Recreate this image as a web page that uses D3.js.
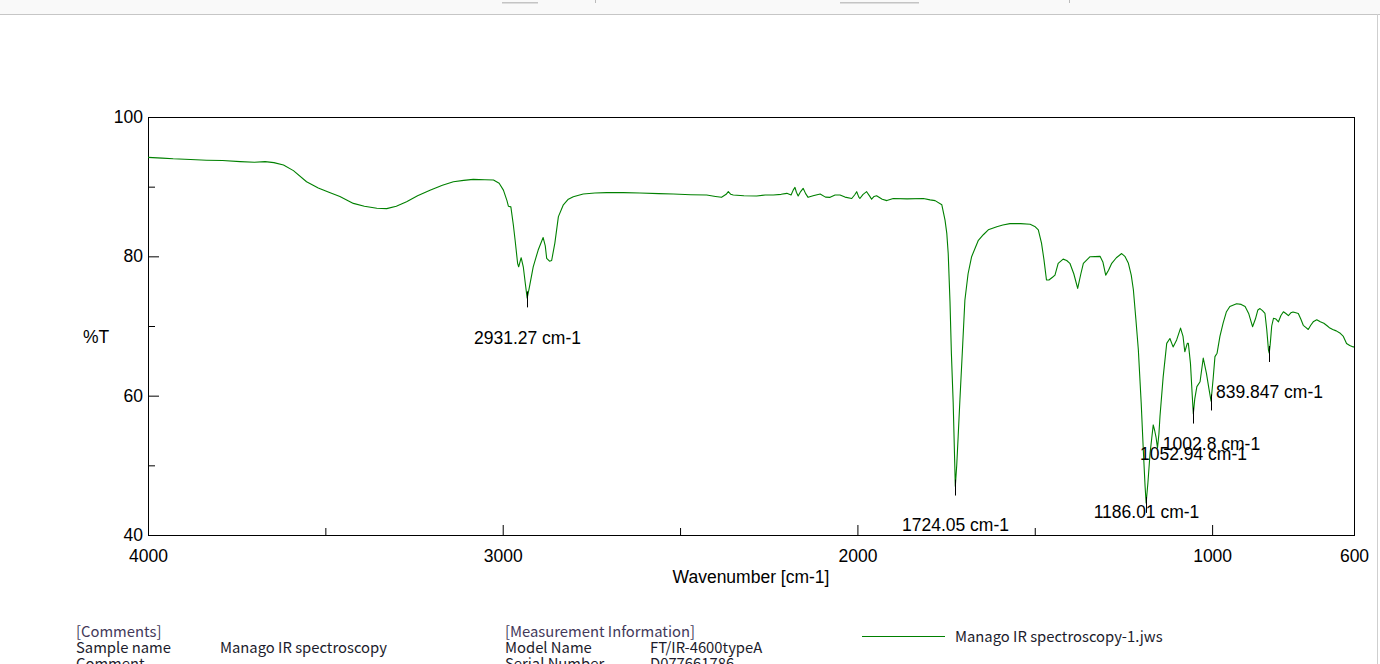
<!DOCTYPE html>
<html><head><meta charset="utf-8">
<script src="https://cdn.jsdelivr.net/npm/d3@7"></script>
<style>body{margin:0;background:#fff;overflow:hidden}svg{display:block}</style>
</head><body>
<svg id="c" width="1380" height="664"></svg>
<script>
// ---- data ----
const wavenumbers = [4000,3960,3929,3880,3835,3790,3740,3700,3670,3645,3618,3590,3553,3520,3490,3459,3421,3390,3355,3327,3300,3271,3240,3205,3170,3139,3110,3083,3050,3026,3010,2998,2988,2984,2977,2970,2965,2958,2955,2948,2942,2936,2931,2925,2914,2900,2886,2880,2876,2868,2862,2853,2843,2829,2815,2801,2773,2740,2707,2660,2613,2560,2519,2470,2425,2400,2383,2370,2364,2357,2350,2320,2284,2260,2237,2215,2199,2187,2181,2176,2172,2167,2160,2153,2146,2139,2125,2105,2090,2077,2063,2049,2035,2016,2008,2002,1996,1993,1984,1974,1965,1960,1953,1946,1930,1917,1899,1860,1814,1795,1781,1762,1753,1748,1744,1739,1735,1730,1726,1724,1720,1716,1711,1703,1697,1688,1678,1659,1645,1631,1607,1590,1570,1540,1513,1500,1490,1481,1474,1467,1460,1450,1443,1434,1420,1410,1401,1390,1379,1370,1363,1344,1316,1308,1300,1292,1283,1270,1255,1246,1236,1228,1222,1215,1208,1200,1194,1189,1186,1181,1175,1170,1166,1162,1158,1154,1150,1147,1138,1128,1119,1110,1100,1089,1082,1077,1070,1067,1061,1056,1053,1049,1043,1034,1025,1016,1009,1003,997,992,986,978,969,960,950,931,918,907,897,886,878,871,865,858,851,846,841,839,836,832,827,820,813,806,799,792,785,778,772,764,757,750,743,736,729,722,715,705,695,685,675,668,660,650,640,630,621,612,602,600];
const transmittance = [94.2,94.1,94.0,93.9,93.8,93.75,93.6,93.5,93.6,93.45,93.1,92.3,90.7,89.8,89.2,88.6,87.6,87.2,86.9,86.85,87.2,87.85,88.7,89.5,90.2,90.7,90.9,91.05,91.0,90.96,90.5,89.5,88.0,87.2,87.1,84.5,82.3,79.0,78.5,79.8,78.5,76.0,74.0,75.5,78.5,80.9,82.7,81.5,79.7,79.3,79.4,81.9,85.7,87.4,88.2,88.56,88.95,89.1,89.14,89.15,89.1,89.0,88.95,88.85,88.8,88.6,88.47,88.9,89.3,88.9,88.8,88.7,88.66,88.8,88.8,88.9,89.04,88.8,89.5,89.9,89.2,88.66,89.3,89.76,89.0,88.47,88.7,88.95,88.5,88.47,88.8,88.8,88.5,88.3,88.8,89.28,88.5,88.3,88.9,89.28,88.6,88.2,88.6,88.7,88.2,88.0,88.3,88.25,88.3,88.1,88.0,87.4,85.2,83.3,80.4,73.5,66.0,59.0,51.0,47.0,50.0,54.1,59.4,67.5,73.7,77.5,79.95,82.3,83.1,83.8,84.26,84.5,84.7,84.7,84.6,84.3,83.8,81.9,79.5,76.6,76.6,77.0,77.3,79.0,79.6,79.4,79.0,77.5,75.4,77.5,79.0,79.95,80.0,79.2,77.3,78.0,79.0,79.8,80.4,80.0,79.0,77.3,75.2,71.0,66.6,59.0,52.2,47.0,44.6,47.5,51.7,54.0,55.8,55.0,54.0,52.5,54.5,57.0,62.7,67.5,68.2,67.0,68.0,69.7,68.5,66.3,67.5,67.5,64.6,60.0,57.4,59.5,61.3,62.0,65.4,63.2,61.0,59.2,62.5,65.6,66.1,68.5,70.4,72.0,72.8,73.2,73.1,72.8,71.8,69.9,71.0,72.3,72.5,72.2,71.8,69.5,66.5,66.1,67.5,70.0,71.1,71.0,70.6,71.5,72.05,71.8,71.5,71.9,72.0,71.9,71.8,71.0,70.1,69.8,69.5,70.1,70.6,70.9,70.6,70.4,70.0,69.7,69.5,69.3,69.0,68.5,67.5,67.2,67.0,67.0];
const peakWavenumbers = [2931.27, 1724.05, 1186.01, 1052.94, 1002.8, 839.847];
const peakLabels = ["2931.27 cm-1", "1724.05 cm-1", "1186.01 cm-1", "1052.94 cm-1", "1002.8 cm-1", "839.847 cm-1"];
const xTickLabels = [4000, 3000, 2000, 1000, 600];
const xMajorTicks = [3000, 2000, 1000];
const xMinorTicks = [3500, 2500, 1500];
const yTickLabels = [100, 80, 60, 40];
const yMinorTicks = [90, 70, 50];
const legendName = "Manago IR spectroscopy-1.jws";
const commentRows = [["Sample name", "Manago IR spectroscopy"], ["Comment", ""]];
const measureRows = [["Model Name", "FT/IR-4600typeA"], ["Serial Number", "D077661786"]];

// ---- layout ----
const L = 148, R = 1354, T = 117, B = 535;
const peakLabelDy = [40, 39, 9, 40, 43, 40];
const svg = d3.select("#c");
const font = "'Liberation Sans', Arial, sans-serif";
const jfont = "'Noto Sans CJK JP', sans-serif";

// top bar
svg.append("rect").attr("x",0).attr("y",0).attr("width",1380).attr("height",14).attr("fill","#f9f9f9");
svg.append("line").attr("x1",0).attr("x2",1380).attr("y1",14.5).attr("y2",14.5).attr("stroke","#c6c6c6");
svg.append("rect").attr("x",502).attr("y",2).attr("width",36).attr("height",1.5).attr("fill","#c4c4c4");
svg.append("rect").attr("x",840).attr("y",2).attr("width",79).attr("height",1.5).attr("fill","#c4c4c4");
svg.append("line").attr("x1",595.5).attr("x2",595.5).attr("y1",0).attr("y2",3).attr("stroke","#bbb");
svg.append("line").attr("x1",1069.5).attr("x2",1069.5).attr("y1",0).attr("y2",3).attr("stroke","#bbb");
svg.append("line").attr("x1",1377.5).attr("x2",1377.5).attr("y1",14).attr("y2",664).attr("stroke","#cfcfcf");

const x = d3.scaleLinear().domain([4000, 600]).range([L, R]);
const y = d3.scaleLinear().domain([40, 100]).range([B, T]);

// axes
const gx = svg.append("g").attr("transform", `translate(0,${B})`)
  .call(d3.axisBottom(x).tickValues(xTickLabels).tickSizeInner(0).tickSizeOuter(0).tickPadding(15).tickFormat(d3.format("d")));
const gxMaj = svg.append("g").attr("transform", `translate(0,${B})`)
  .call(d3.axisBottom(x).tickValues(xMajorTicks).tickSizeInner(-10).tickSizeOuter(0).tickFormat(""));
const gxMin = svg.append("g").attr("transform", `translate(0,${B})`)
  .call(d3.axisBottom(x).tickValues(xMinorTicks).tickSizeInner(-7).tickSizeOuter(0).tickFormat(""));
const gy = svg.append("g").attr("transform", `translate(${L},0)`)
  .call(d3.axisLeft(y).tickValues(yTickLabels).tickSizeInner(-11).tickSizeOuter(0).tickPadding(5).tickFormat(d3.format("d")));
const gyMin = svg.append("g").attr("transform", `translate(${L},0)`)
  .call(d3.axisLeft(y).tickValues(yMinorTicks).tickSizeInner(-7).tickSizeOuter(0).tickFormat(""));
[gx, gxMaj, gxMin, gy, gyMin].forEach(g => {
  g.select(".domain").remove();
  g.selectAll("line").attr("stroke", "#000");
  g.selectAll("text").attr("font-family", font).attr("font-size", "17.5px").attr("fill", "#000");
});

// frame
svg.append("rect").attr("x", L + 0.5).attr("y", T + 0.5).attr("width", R - L).attr("height", B - T)
  .attr("fill", "none").attr("stroke", "#000").attr("stroke-width", 1);

// axis titles
svg.append("text").attr("x", (L + R) / 2).attr("y", 583).attr("text-anchor", "middle")
  .attr("font-family", font).attr("font-size", "17.5px").text("Wavenumber [cm-1]");
svg.append("text").attr("x", 96).attr("y", 343).attr("text-anchor", "middle")
  .attr("font-family", font).attr("font-size", "17.5px").text("%T");

// spectrum
const data = wavenumbers.map((w, i) => [w, transmittance[i]]);
svg.append("path").datum(data)
  .attr("fill", "none").attr("stroke", "#008000").attr("stroke-width", 1.1).attr("stroke-linejoin", "round")
  .attr("d", d3.line().x(d => x(d[0])).y(d => y(d[1])));

// peak markers & labels
const interpT = w => {
  for (let i = 0; i < wavenumbers.length - 1; i++) {
    const a = wavenumbers[i], b = wavenumbers[i + 1];
    if (w <= a && w >= b) {
      const t = (a - w) / (a - b);
      return transmittance[i] + t * (transmittance[i + 1] - transmittance[i]);
    }
  }
  return transmittance[transmittance.length - 1];
};
peakWavenumbers.forEach((w, i) => {
  const px = Math.round(x(w)) + 0.5, py = y(interpT(w));
  svg.append("line").attr("x1", px).attr("x2", px).attr("y1", py - 6).attr("y2", py + 10)
    .attr("stroke", "#000").attr("stroke-width", 1);
  svg.append("text").attr("x", px).attr("y", py + peakLabelDy[i] + 6.5).attr("text-anchor", "middle")
    .attr("font-family", font).attr("font-size", "17.5px").attr("fill", "#000").text(peakLabels[i]);
});

// bottom info
const info = svg.append("g").attr("font-family", jfont).attr("font-size", "14.8px").attr("fill", "#1c1c2c");
info.append("text").attr("x", 76).attr("y", 637).attr("fill", "#43395a").text("[Comments]");
commentRows.forEach((r, i) => {
  info.append("text").attr("x", 76).attr("y", 653 + i * 16).text(r[0]);
  info.append("text").attr("x", 220).attr("y", 653 + i * 16).text(r[1]);
});
info.append("text").attr("x", 505).attr("y", 637).attr("fill", "#43395a").text("[Measurement Information]");
measureRows.forEach((r, i) => {
  info.append("text").attr("x", 505).attr("y", 653 + i * 16).text(r[0]);
  info.append("text").attr("x", 650).attr("y", 653 + i * 16).text(r[1]);
});
svg.append("line").attr("x1", 862).attr("x2", 945).attr("y1", 636.5).attr("y2", 636.5)
  .attr("stroke", "#008000").attr("stroke-width", 1.2);
info.append("text").attr("x", 955).attr("y", 642).text(legendName);
</script>
</body></html>
